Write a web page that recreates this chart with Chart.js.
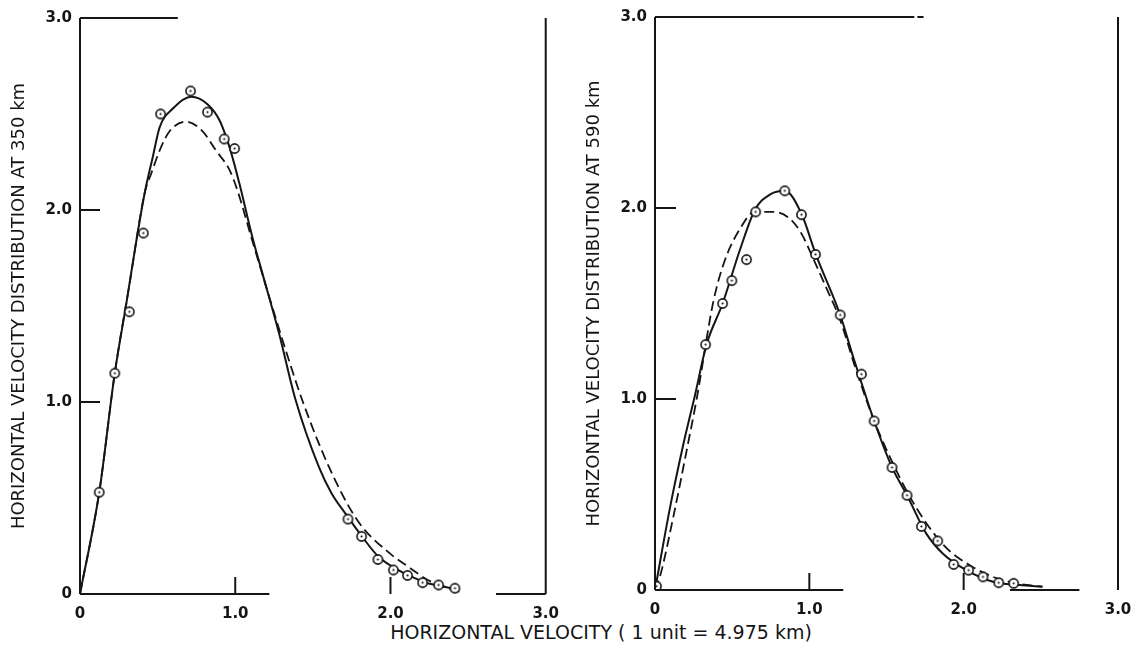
<!DOCTYPE html>
<html>
<head>
<meta charset="utf-8">
<script src="https://cdn.jsdelivr.net/npm/chart.js@4.4.1/dist/chart.umd.min.js"></script>
<style>
body { margin:0; background:#fff; width:1146px; height:652px; position:relative; overflow:hidden; }
.box { position:absolute; top:0; }
#xtitle { position:absolute; left:601px; top:621px; transform:translateX(-50%); font-family:"DejaVu Sans"; font-size:19px; color:#151515; white-space:nowrap; }
</style>
</head>
<body>
<div class="box" style="left:0px"><canvas id="c1" width="570" height="620"></canvas></div>
<div class="box" style="left:575px"><canvas id="c2" width="571" height="620"></canvas></div>
<div id="xtitle">HORIZONTAL VELOCITY ( 1 unit = 4.975 km)</div>
<script>
// 축 눈금
var tickValues = [0, 1, 2, 3];
var tickLabels = ["0", "1.0", "2.0", "3.0"];

// 350 km 관측점
var obs350X = [0.124, 0.224, 0.318, 0.408, 0.519, 0.712, 0.821, 0.929, 0.996, 1.726, 1.814, 1.919, 2.019, 2.11, 2.207, 2.31, 2.415];
var obs350Y = [0.53, 1.15, 1.47, 1.88, 2.50, 2.62, 2.51, 2.37, 2.32, 0.39, 0.30, 0.18, 0.125, 0.097, 0.059, 0.047, 0.03];
// 350 km 실선
var solid350X = [0, 0.124, 0.224, 0.30, 0.353, 0.417, 0.47, 0.513, 0.6, 0.716, 0.823, 0.897, 0.962, 1.026, 1.11, 1.175, 1.282, 1.389, 1.538, 1.62, 1.709, 1.816, 1.923, 2.03, 2.137, 2.24, 2.35, 2.415];
var solid350Y = [0, 0.53, 1.15, 1.52, 1.79, 2.09, 2.28, 2.43, 2.53, 2.59, 2.55, 2.47, 2.33, 2.14, 1.86, 1.67, 1.358, 1.01, 0.663, 0.525, 0.42, 0.30, 0.194, 0.134, 0.09, 0.056, 0.038, 0.025];
// 350 km 점선
var dash350X = [0, 0.124, 0.224, 0.32, 0.417, 0.459, 0.513, 0.577, 0.684, 0.79, 0.876, 0.962, 1.015, 1.11, 1.218, 1.325, 1.436, 1.603, 1.79, 1.998, 2.115, 2.24, 2.37, 2.45];
var dash350Y = [0, 0.53, 1.15, 1.62, 2.09, 2.19, 2.31, 2.41, 2.46, 2.41, 2.31, 2.21, 2.10, 1.84, 1.55, 1.27, 1.0, 0.663, 0.38, 0.21, 0.142, 0.073, 0.03, 0.01];

// 590 km 관측점
var obs590X = [0.01, 0.328, 0.438, 0.498, 0.593, 0.652, 0.841, 0.949, 1.04, 1.2, 1.338, 1.42, 1.536, 1.633, 1.726, 1.832, 1.935, 2.032, 2.125, 2.227, 2.324];
var obs590Y = [0.02, 1.285, 1.50, 1.62, 1.73, 1.98, 2.09, 1.965, 1.757, 1.44, 1.13, 0.885, 0.642, 0.496, 0.333, 0.257, 0.134, 0.104, 0.069, 0.038, 0.035];
// 590 km 실선
var solid590X = [0, 0.097, 0.183, 0.259, 0.334, 0.438, 0.55, 0.647, 0.744, 0.841, 0.949, 1.042, 1.2, 1.284, 1.338, 1.42, 1.536, 1.633, 1.758, 1.866, 2.017, 2.19, 2.36, 2.51];
var solid590Y = [0, 0.43, 0.76, 1.02, 1.285, 1.50, 1.78, 1.99, 2.07, 2.09, 1.97, 1.757, 1.44, 1.22, 1.085, 0.885, 0.642, 0.496, 0.295, 0.19, 0.104, 0.043, 0.026, 0.017];
// 590 km 점선
var dash590X = [0, 0.032, 0.118, 0.205, 0.27, 0.378, 0.45, 0.55, 0.647, 0.766, 0.874, 0.949, 1.025, 1.111, 1.197, 1.3, 1.42, 1.543, 1.65, 1.758, 1.888, 2.039, 2.19, 2.34, 2.51];
var dash590Y = [0, 0.07, 0.38, 0.73, 1.0, 1.51, 1.72, 1.89, 1.98, 1.98, 1.944, 1.866, 1.736, 1.58, 1.42, 1.16, 0.885, 0.66, 0.49, 0.35, 0.22, 0.13, 0.069, 0.035, 0.017];

var INK = '#151515';

function pts(xs, ys) {
    var out = [];
    for (var i = 0; i < xs.length; i++) out.push({x: xs[i], y: ys[i]});
    return out;
}

// 가운데 점이 있는 동그라미 마커
function dotCircle() {
    var c = document.createElement('canvas');
    c.width = 13; c.height = 13;
    var g = c.getContext('2d');
    g.strokeStyle = INK; g.lineWidth = 1.6;
    g.fillStyle = '#fff';
    g.beginPath(); g.arc(6.5, 6.5, 4.6, 0, Math.PI * 2); g.fill(); g.stroke();
    g.fillStyle = INK;
    g.beginPath(); g.arc(6.5, 6.5, 1.1, 0, Math.PI * 2); g.fill();
    return c;
}
var marker = dotCircle();

// 테두리, 안쪽 눈금
var framePlugin = {
    id: 'frame',
    afterDatasetsDraw: function(chart, args, opts) {
        var ctx = chart.ctx, xs = chart.scales.x, ys = chart.scales.y;
        function seg(x1, y1, x2, y2) {
            ctx.beginPath();
            ctx.moveTo(xs.getPixelForValue(x1), ys.getPixelForValue(y1));
            ctx.lineTo(xs.getPixelForValue(x2), ys.getPixelForValue(y2));
            ctx.stroke();
        }
        ctx.save();
        ctx.strokeStyle = INK;
        ctx.lineWidth = 2;
        seg(0, 0, 0, 3);
        seg(3, 0, 3, 3);
        opts.top.forEach(function(s) { seg(s[0], 3, s[1], 3); });
        opts.bottom.forEach(function(s) { seg(s[0], 0, s[1], 0); });
        var x0 = xs.getPixelForValue(0), y0 = ys.getPixelForValue(0);
        [1, 2].forEach(function(v) {
            var py = ys.getPixelForValue(v);
            ctx.beginPath(); ctx.moveTo(x0, py); ctx.lineTo(x0 + opts.ytick, py); ctx.stroke();
            var px = xs.getPixelForValue(v);
            ctx.beginPath(); ctx.moveTo(px, y0); ctx.lineTo(px, y0 - opts.xtick); ctx.stroke();
        });
        ctx.restore();
    }
};

function mkchart(cid, ytitle, obsX, obsY, solX, solY, dasX, dasY, padTop, xh, frame) {
    var tickFont = {family: 'DejaVu Sans', size: 15, weight: 'bold'};
    return new Chart(document.getElementById(cid), {
        type: 'scatter',
        data: {
            datasets: [
                {data: pts(solX, solY), showLine: true, borderColor: INK, borderWidth: 2, pointRadius: 0, cubicInterpolationMode: 'monotone', order: 2},
                {data: pts(dasX, dasY), showLine: true, borderColor: INK, borderWidth: 1.8, borderDash: [10, 5], pointRadius: 0, cubicInterpolationMode: 'monotone', order: 3},
                {data: pts(obsX, obsY), showLine: false, pointStyle: marker, pointRadius: 6, order: 1}
            ]
        },
        options: {
            responsive: false,
            animation: false,
            layout: {padding: {top: padTop, right: frame.right, left: 0, bottom: 0}},
            plugins: {legend: {display: false}, tooltip: {enabled: false}, frame: frame},
            scales: {
                x: {
                    type: 'linear', min: 0, max: 3,
                    grid: {display: false, drawTicks: false},
                    border: {display: false},
                    afterBuildTicks: function(s) { s.ticks = tickValues.map(function(v) { return {value: v}; }); },
                    ticks: {color: INK, font: tickFont, padding: 11, maxRotation: 0,
                        callback: function(v) { return tickLabels[tickValues.indexOf(v)]; }},
                    afterFit: function(s) { s.height = xh; }
                },
                y: {
                    type: 'linear', min: 0, max: 3,
                    grid: {display: false, drawTicks: false},
                    border: {display: false},
                    afterBuildTicks: function(s) { s.ticks = tickValues.map(function(v) { return {value: v}; }); },
                    ticks: {color: INK, font: tickFont, padding: 8,
                        callback: function(v) { return tickLabels[tickValues.indexOf(v)]; }},
                    title: {display: true, text: ytitle, color: INK, font: {family: 'DejaVu Sans', size: 18}, padding: {top: 9, bottom: 0}},
                    afterFit: function(s) { s.width = 80; }
                }
            }
        },
        plugins: [framePlugin]
    });
}

mkchart('c1', 'HORIZONTAL VELOCITY DISTRIBUTION AT 350 km', obs350X, obs350Y, solid350X, solid350Y, dash350X, dash350Y, 18, 26,
    {right: 24, top: [[0, 0.63]], bottom: [[0, 1.22], [2.68, 3]], ytick: 20, xtick: 17});
mkchart('c2', 'HORIZONTAL VELOCITY DISTRIBUTION AT 590 km', obs590X, obs590Y, solid590X, solid590Y, dash590X, dash590Y, 14, 30,
    {right: 28, top: [[0, 1.68], [1.70, 1.74]], bottom: [[0, 1.22], [2.3, 2.75]], ytick: 21, xtick: 17});
</script>
</body>
</html>
